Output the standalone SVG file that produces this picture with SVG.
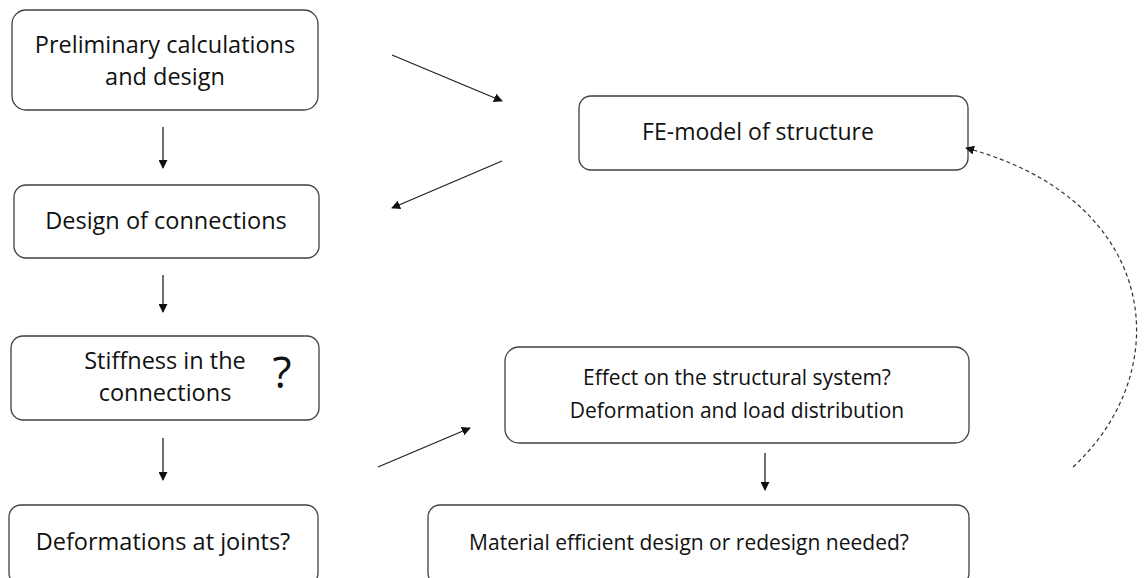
<svg xmlns="http://www.w3.org/2000/svg" width="1145" height="578" viewBox="0 0 1145 578">
<defs>
<style>
.box{fill:#fff;stroke:#404040;stroke-width:1.3}
.t{font-family:"Open Sans","Liberation Sans",Arial,sans-serif;font-size:23.5px;fill:#111;text-anchor:middle}
.s{font-size:21px}
.c{stroke:#222;stroke-width:1.3;fill:none}
.d{stroke:#333;stroke-width:1.2;fill:none;stroke-dasharray:4,3}
</style>
<marker id="ah" viewBox="0 0 10 10" refX="9" refY="5" markerWidth="9" markerHeight="9" markerUnits="userSpaceOnUse" orient="auto"><path d="M0,0 L10,5 L0,10 z" fill="#111"/></marker>
</defs>
<rect width="1145" height="578" fill="#fff"/>
<g id="n1"><rect class="box" x="12" y="10" width="306" height="100" rx="14"/><text class="t" x="165" y="53">Preliminary calculations</text><text class="t" x="165" y="85">and design</text></g>
<g id="n2"><rect class="box" x="14" y="185" width="305" height="73" rx="12"/><text class="t" x="166" y="229">Design of connections</text></g>
<g id="n3"><rect class="box" x="11" y="336" width="308" height="84" rx="12"/><text class="t" x="165" y="369">Stiffness in the</text><text class="t" x="165" y="401">connections</text><text class="t" x="282" y="388" style="font-size:44px">?</text></g>
<g id="n4"><rect class="box" x="9" y="505" width="309" height="80" rx="12"/><text class="t" x="163" y="550">Deformations at joints?</text></g>
<g id="n5"><rect class="box" x="579" y="96" width="389" height="74" rx="12"/><text class="t" x="758" y="140" style="font-size:23px">FE-model of structure</text></g>
<g id="n6"><rect class="box" x="505" y="347" width="464" height="96" rx="14"/><text class="t s" x="737" y="385">Effect on the structural system?</text><text class="t s" x="737" y="418">Deformation and load distribution</text></g>
<g id="n7"><rect class="box" x="428" y="505" width="541" height="80" rx="12"/><text class="t s" x="689" y="550">Material efficient design or redesign needed?</text></g>
<g id="connectors">
<line class="c" x1="163" y1="127" x2="163" y2="168" marker-end="url(#ah)"/>
<line class="c" x1="163" y1="275" x2="163" y2="312" marker-end="url(#ah)"/>
<line class="c" x1="163" y1="438" x2="163" y2="480" marker-end="url(#ah)"/>
<line class="c" x1="765" y1="453" x2="765" y2="490" marker-end="url(#ah)"/>
<line class="c" x1="392" y1="55" x2="502" y2="101" marker-end="url(#ah)"/>
<line class="c" x1="502" y1="161" x2="392" y2="208" marker-end="url(#ah)"/>
<line class="c" x1="378" y1="467" x2="470" y2="428" marker-end="url(#ah)"/>
<path class="d" d="M1073,467 C1178,370 1160,200 966,148" marker-end="url(#ah)"/>
</g>
</svg>
